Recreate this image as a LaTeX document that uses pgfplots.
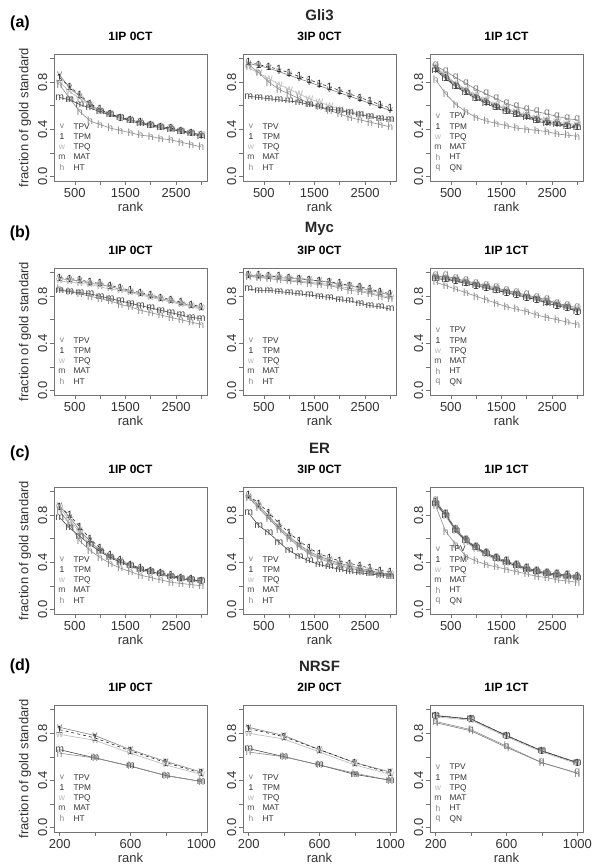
\documentclass[border=0pt]{standalone}
\usepackage{pgfplots}
\pgfplotsset{compat=1.18}
\usepackage{pgfplotstable}
\usetikzlibrary{plotmarks}
\usepackage{fontspec}
\setmainfont{Liberation Sans}

\definecolor{cTPV}{gray}{0.50}
\definecolor{cTPM}{gray}{0.15}
\definecolor{cTPQ}{gray}{0.72}
\definecolor{cMAT}{gray}{0.30}
\definecolor{cHT}{gray}{0.55}
\definecolor{cQN}{gray}{0.50}
\newcommand{\mk}{\fontsize{10.5}{10.5}\selectfont}

% Gli3
\pgfplotstableread{
rank v t w m h
200 0.86 0.84 0.80 0.67 0.78
400 0.75 0.76 0.72 0.65 0.66
600 0.68 0.69 0.66 0.61 0.55
800 0.61 0.62 0.60 0.58 0.47
1000 0.56 0.57 0.55 0.55 0.44
1200 0.53 0.53 0.52 0.52 0.41
1400 0.50 0.50 0.49 0.50 0.39
1600 0.48 0.48 0.47 0.47 0.37
1800 0.46 0.46 0.45 0.45 0.35
2000 0.44 0.44 0.43 0.43 0.34
2200 0.42 0.42 0.41 0.41 0.32
2400 0.41 0.41 0.40 0.40 0.31
2600 0.39 0.39 0.38 0.38 0.29
2800 0.37 0.37 0.36 0.36 0.27
3000 0.35 0.35 0.35 0.34 0.25
}\gliA
\pgfplotstableread{
rank v t w m h
200 0.96 0.97 0.92 0.68 0.95
400 0.94 0.95 0.88 0.67 0.88
600 0.92 0.93 0.83 0.66 0.80
800 0.89 0.91 0.78 0.65 0.74
1000 0.86 0.88 0.74 0.64 0.70
1200 0.83 0.85 0.70 0.63 0.66
1400 0.80 0.82 0.66 0.61 0.62
1600 0.77 0.79 0.63 0.59 0.59
1800 0.74 0.76 0.60 0.57 0.56
2000 0.71 0.73 0.57 0.56 0.53
2200 0.68 0.70 0.55 0.54 0.50
2400 0.65 0.67 0.53 0.52 0.48
2600 0.62 0.64 0.51 0.51 0.46
2800 0.59 0.61 0.49 0.49 0.44
3000 0.56 0.58 0.48 0.48 0.42
}\gliB
\pgfplotstableread{
rank v t w m h q
200 0.92 0.91 0.93 0.90 0.82 0.94
400 0.85 0.84 0.86 0.83 0.70 0.89
600 0.78 0.77 0.79 0.76 0.61 0.84
800 0.73 0.72 0.74 0.71 0.55 0.79
1000 0.68 0.67 0.69 0.66 0.50 0.74
1200 0.64 0.63 0.65 0.62 0.47 0.70
1400 0.60 0.59 0.61 0.58 0.45 0.66
1600 0.57 0.56 0.58 0.55 0.43 0.62
1800 0.54 0.53 0.55 0.52 0.41 0.59
2000 0.51 0.51 0.52 0.50 0.40 0.57
2200 0.49 0.48 0.50 0.47 0.39 0.55
2400 0.47 0.46 0.48 0.45 0.38 0.53
2600 0.45 0.45 0.46 0.44 0.36 0.51
2800 0.44 0.43 0.45 0.42 0.35 0.49
3000 0.43 0.42 0.44 0.41 0.34 0.48
}\gliC
% Myc
\pgfplotstableread{
rank v t w m h
200 0.95 0.96 0.93 0.85 0.86
400 0.94 0.95 0.92 0.84 0.84
600 0.93 0.94 0.91 0.83 0.82
800 0.91 0.92 0.90 0.82 0.80
1000 0.90 0.91 0.88 0.80 0.78
1200 0.88 0.89 0.86 0.78 0.76
1400 0.86 0.87 0.85 0.76 0.73
1600 0.84 0.85 0.83 0.74 0.71
1800 0.82 0.83 0.81 0.72 0.68
2000 0.80 0.81 0.79 0.70 0.66
2200 0.78 0.79 0.77 0.68 0.64
2400 0.76 0.77 0.75 0.66 0.62
2600 0.74 0.75 0.73 0.64 0.60
2800 0.72 0.73 0.71 0.62 0.58
3000 0.70 0.71 0.69 0.61 0.56
}\mycA
\pgfplotstableread{
rank v t w m h
200 0.98 0.98 0.97 0.86 0.97
400 0.97 0.98 0.96 0.85 0.96
600 0.97 0.97 0.96 0.85 0.95
800 0.96 0.97 0.95 0.84 0.94
1000 0.95 0.96 0.94 0.83 0.93
1200 0.95 0.95 0.93 0.82 0.92
1400 0.94 0.94 0.92 0.81 0.91
1600 0.93 0.93 0.91 0.80 0.90
1800 0.92 0.92 0.90 0.79 0.89
2000 0.90 0.91 0.88 0.77 0.87
2200 0.89 0.89 0.87 0.76 0.85
2400 0.87 0.88 0.85 0.74 0.84
2600 0.85 0.86 0.83 0.72 0.82
2800 0.83 0.84 0.81 0.71 0.80
3000 0.81 0.82 0.79 0.69 0.78
}\mycB
\pgfplotstableread{
rank v t w m h q
200 0.96 0.96 0.97 0.95 0.92 0.97
400 0.95 0.95 0.96 0.94 0.89 0.97
600 0.94 0.93 0.94 0.93 0.86 0.95
800 0.92 0.91 0.92 0.91 0.83 0.93
1000 0.90 0.89 0.90 0.89 0.80 0.91
1200 0.88 0.87 0.88 0.87 0.77 0.89
1400 0.86 0.85 0.86 0.85 0.74 0.87
1600 0.84 0.83 0.84 0.83 0.71 0.85
1800 0.82 0.81 0.82 0.81 0.69 0.83
2000 0.80 0.79 0.80 0.79 0.67 0.81
2200 0.78 0.77 0.78 0.77 0.64 0.79
2400 0.76 0.75 0.76 0.74 0.62 0.77
2600 0.73 0.72 0.74 0.72 0.60 0.74
2800 0.71 0.70 0.71 0.70 0.58 0.72
3000 0.68 0.67 0.69 0.67 0.56 0.70
}\mycC
% ER
\pgfplotstableread{
rank v t w m h
200 0.88 0.87 0.86 0.78 0.84
400 0.78 0.80 0.76 0.69 0.72
600 0.67 0.70 0.65 0.62 0.58
800 0.58 0.60 0.56 0.55 0.50
1000 0.50 0.52 0.49 0.49 0.44
1200 0.45 0.46 0.44 0.44 0.39
1400 0.41 0.42 0.40 0.40 0.35
1600 0.37 0.38 0.36 0.37 0.32
1800 0.34 0.35 0.33 0.34 0.29
2000 0.32 0.33 0.31 0.32 0.27
2200 0.30 0.31 0.29 0.30 0.25
2400 0.28 0.29 0.27 0.28 0.23
2600 0.26 0.27 0.26 0.26 0.22
2800 0.25 0.26 0.24 0.25 0.21
3000 0.24 0.24 0.23 0.24 0.20
}\erA
\pgfplotstableread{
rank v t w m h
200 0.96 0.97 0.95 0.82 0.95
400 0.88 0.90 0.87 0.71 0.86
600 0.79 0.82 0.78 0.65 0.77
800 0.70 0.73 0.69 0.57 0.68
1000 0.62 0.65 0.61 0.50 0.60
1200 0.55 0.58 0.54 0.45 0.53
1400 0.49 0.52 0.48 0.41 0.47
1600 0.45 0.47 0.44 0.38 0.43
1800 0.42 0.44 0.41 0.36 0.40
2000 0.39 0.41 0.38 0.34 0.37
2200 0.37 0.39 0.36 0.32 0.35
2400 0.35 0.37 0.34 0.31 0.33
2600 0.33 0.35 0.32 0.30 0.31
2800 0.31 0.33 0.30 0.29 0.30
3000 0.30 0.32 0.29 0.28 0.29
}\erB
\pgfplotstableread{
rank v t w m h q
200 0.90 0.91 0.89 0.90 0.88 0.92
400 0.80 0.81 0.79 0.80 0.66 0.81
600 0.67 0.68 0.66 0.67 0.55 0.68
800 0.58 0.59 0.57 0.58 0.45 0.59
1000 0.52 0.53 0.51 0.52 0.41 0.53
1200 0.47 0.48 0.46 0.47 0.38 0.48
1400 0.43 0.44 0.42 0.43 0.36 0.44
1600 0.40 0.41 0.39 0.40 0.34 0.41
1800 0.37 0.38 0.36 0.37 0.32 0.38
2000 0.34 0.35 0.33 0.34 0.30 0.35
2200 0.32 0.33 0.31 0.32 0.28 0.33
2400 0.30 0.31 0.29 0.30 0.27 0.31
2600 0.29 0.30 0.28 0.29 0.25 0.30
2800 0.28 0.29 0.27 0.28 0.24 0.29
3000 0.27 0.28 0.26 0.27 0.23 0.28
}\erC
% NRSF
\pgfplotstableread{
rank v t w m h
200 0.85 0.83 0.79 0.66 0.63
400 0.78 0.76 0.74 0.59 0.59
600 0.66 0.65 0.63 0.52 0.52
800 0.56 0.55 0.53 0.44 0.44
1000 0.47 0.46 0.45 0.39 0.39
}\nrA
\pgfplotstableread{
rank v t w m h
200 0.85 0.84 0.80 0.67 0.64
400 0.78 0.77 0.75 0.60 0.60
600 0.66 0.66 0.64 0.53 0.53
800 0.55 0.55 0.53 0.45 0.46
1000 0.47 0.46 0.45 0.40 0.40
}\nrB
\pgfplotstableread{
rank v t w m h q
200 0.95 0.95 0.94 0.95 0.90 0.89
400 0.92 0.92 0.91 0.92 0.83 0.82
600 0.78 0.78 0.77 0.78 0.69 0.68
800 0.65 0.65 0.64 0.65 0.55 0.55
1000 0.55 0.55 0.54 0.55 0.46 0.46
}\nrC

\pgfplotsset{
  tpv/.style={color=cTPV, mark=text, text mark={\mk\color{cTPV}v}},
  tpm/.style={color=cTPM, dashed, mark=text, text mark={\mk\color{cTPM}1}},
  tpq/.style={color=cTPQ, mark=text, text mark={\mk\color{cTPQ}w}},
  mat/.style={color=cMAT, mark=text, text mark={\mk\color{cMAT}m}},
  ht/.style={color=cHT, mark=text, text mark={\mk\color{cHT}h}},
  qn/.style={color=cQN, mark=text, text mark={\mk\color{cQN}q}},
  panel/.style={
    scale only axis, width=153pt, height=127pt,
    xmin=88, xmax=3112, ymin=-0.04, ymax=1.04,
    xtick={500,1000,1500,2000,2500,3000},
    xticklabels={500,,1500,,2500,},
    ytick={0,0.2,0.4,0.6,0.8,1},
    yticklabels={0.0,,0.4,,0.8,},
    xtick pos=bottom, ytick pos=left,
    tick align=outside, major tick length=4pt,
    axis line style={black!55},
    every tick/.style={black!55, line width=0.5pt},
    tick label style={font=\fontsize{13}{15}\selectfont, text=black!80},
    yticklabel style={rotate=90, anchor=south, inner sep=2.5pt},
    xlabel={rank},
    xlabel style={font=\fontsize{13}{15}\selectfont, text=black!80,
      at={(axis description cs:0.5,-0.205)}, anchor=center},
    ylabel style={font=\fontsize{13}{15}\selectfont, text=black!80,
      at={(axis description cs:-0.19,0.5)}, anchor=center},
    title style={font=\fontsize{12}{14}\selectfont\bfseries,
      at={(axis description cs:0.5,1)}, anchor=center, yshift=12pt},
    legend style={at={(axis description cs:0.028,0.062)}, anchor=south west,
      draw=none, fill=none, inner sep=0pt, row sep=0pt, column sep=8pt,
      font=\fontsize{8.3}{9}\selectfont,
      nodes={inner sep=0pt, text height=7.6pt, text depth=2.7pt, text=black!80}},
    legend cell align=left,
    legend image code/.code={\def\mk{\fontsize{8.5}{9}\selectfont}\path[##1] plot coordinates {(0pt,0pt)};},
    every axis plot/.append style={line width=0.6pt},
    clip=false,
  },
  panel d/.style={panel, xmin=168, xmax=1032,
    xtick={200,400,600,800,1000}, xticklabels={200,,600,,1000}},
}

\newcommand{\fiveplots}[1]{%
  \addplot[tpv] table[x=rank,y=v]{#1};
  \addplot[tpm] table[x=rank,y=t]{#1};
  \addplot[tpq] table[x=rank,y=w]{#1};
  \addplot[mat] table[x=rank,y=m]{#1};
  \addplot[ht] table[x=rank,y=h]{#1};
}

\begin{document}
\begin{tikzpicture}
\useasboundingbox (0,0) rectangle (593pt,-868pt);

% ---- (a) Gli3
\begin{axis}[panel, at={(54pt,-181pt)}, anchor=south west, title={1IP 0CT}, ylabel={fraction of gold standard}]
\fiveplots{\gliA}
\legend{TPV,TPM,TPQ,MAT,HT}
\end{axis}
\begin{axis}[panel, at={(243pt,-181pt)}, anchor=south west, title={3IP 0CT}]
\fiveplots{\gliB}
\legend{TPV,TPM,TPQ,MAT,HT}
\end{axis}
\begin{axis}[panel, at={(430pt,-181pt)}, anchor=south west, title={1IP 1CT}]
\fiveplots{\gliC}
\addplot[qn] table[x=rank,y=q]{\gliC};
\legend{TPV,TPM,TPQ,MAT,HT,QN}
\end{axis}

% ---- (b) Myc
\begin{axis}[panel, at={(54pt,-395pt)}, anchor=south west, title={1IP 0CT}, ylabel={fraction of gold standard}]
\fiveplots{\mycA}
\legend{TPV,TPM,TPQ,MAT,HT}
\end{axis}
\begin{axis}[panel, at={(243pt,-395pt)}, anchor=south west, title={3IP 0CT}]
\fiveplots{\mycB}
\legend{TPV,TPM,TPQ,MAT,HT}
\end{axis}
\begin{axis}[panel, at={(430pt,-395pt)}, anchor=south west, title={1IP 1CT}]
\fiveplots{\mycC}
\addplot[qn] table[x=rank,y=q]{\mycC};
\legend{TPV,TPM,TPQ,MAT,HT,QN}
\end{axis}

% ---- (c) ER
\begin{axis}[panel, at={(54pt,-614pt)}, anchor=south west, title={1IP 0CT}, ylabel={fraction of gold standard}]
\fiveplots{\erA}
\legend{TPV,TPM,TPQ,MAT,HT}
\end{axis}
\begin{axis}[panel, at={(243pt,-614pt)}, anchor=south west, title={3IP 0CT}]
\fiveplots{\erB}
\legend{TPV,TPM,TPQ,MAT,HT}
\end{axis}
\begin{axis}[panel, at={(430pt,-614pt)}, anchor=south west, title={1IP 1CT}]
\fiveplots{\erC}
\addplot[qn] table[x=rank,y=q]{\erC};
\legend{TPV,TPM,TPQ,MAT,HT,QN}
\end{axis}

% ---- (d) NRSF
\begin{axis}[panel d, at={(54pt,-832pt)}, anchor=south west, title={1IP 0CT}, ylabel={fraction of gold standard}]
\fiveplots{\nrA}
\legend{TPV,TPM,TPQ,MAT,HT}
\end{axis}
\begin{axis}[panel d, at={(243pt,-832pt)}, anchor=south west, title={2IP 0CT}]
\fiveplots{\nrB}
\legend{TPV,TPM,TPQ,MAT,HT}
\end{axis}
\begin{axis}[panel d, at={(430pt,-832pt)}, anchor=south west, title={1IP 1CT}]
\fiveplots{\nrC}
\addplot[qn] table[x=rank,y=q]{\nrC};
\legend{TPV,TPM,TPQ,MAT,HT,QN}
\end{axis}

% row letters and titles
\begin{scope}[every node/.style={font=\fontsize{16}{19}\selectfont\bfseries}]
\node at (20pt,-23pt) {(a)};
\node at (20pt,-233pt) {(b)};
\node at (20pt,-453pt) {(c)};
\node at (20pt,-666pt) {(d)};
\end{scope}
\begin{scope}[every node/.style={font=\fontsize{15}{18}\selectfont\bfseries, text=black!85}]
\node at (319.5pt,-15pt) {Gli3};
\node at (319.5pt,-229pt) {Myc};
\node at (319.5pt,-448pt) {ER};
\node at (319.5pt,-666pt) {NRSF};
\end{scope}
\end{tikzpicture}
\end{document}
